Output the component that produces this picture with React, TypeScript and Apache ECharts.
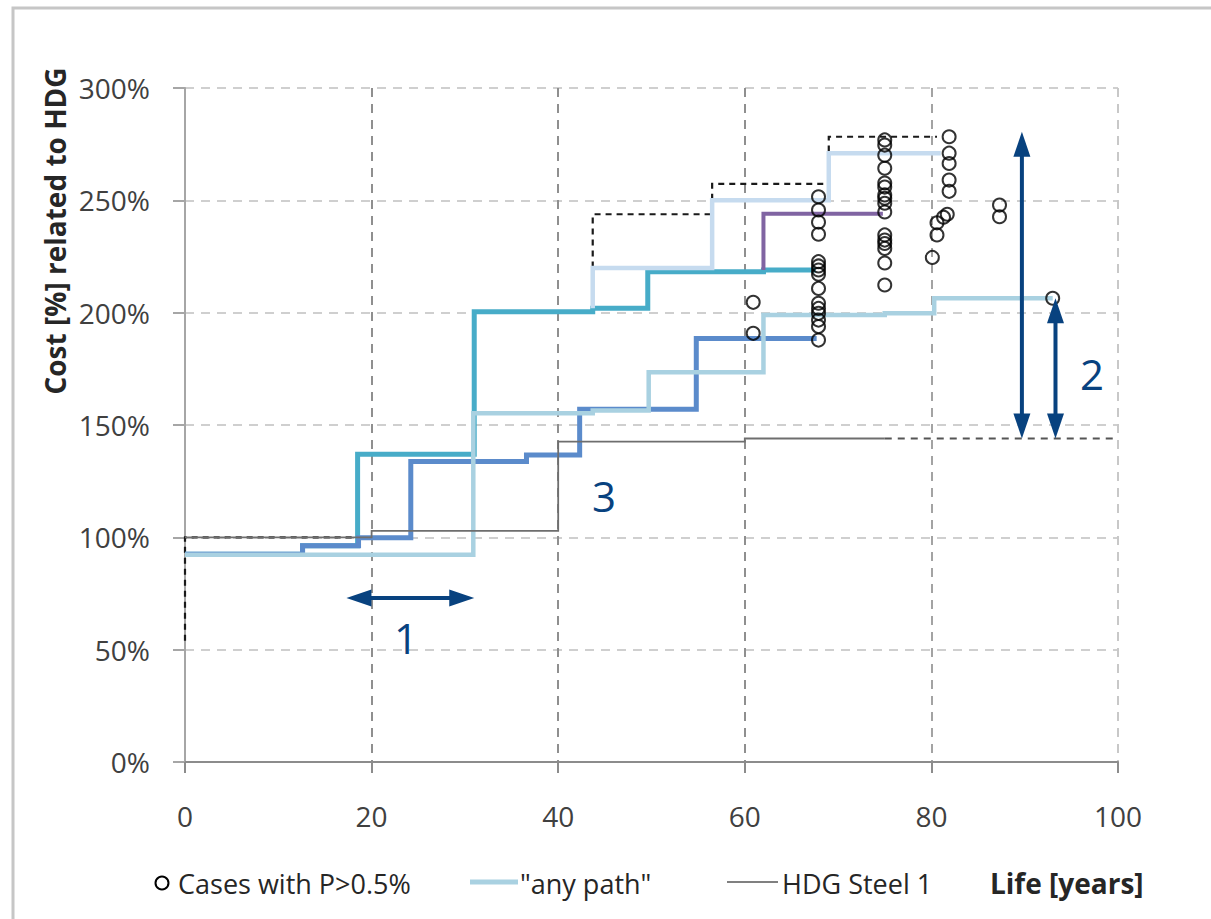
import React, { useEffect, useRef } from "react";
import * as echarts from "echarts";

type Pt = [number, number];

// Step paths: each [life in years, cost %] holds its value until the next point
const pathTeal: Pt[] = [[0, 92.5], [12.6, 96.2], [18.5, 137], [31, 200.4], [43.7, 202], [49.6, 218.2], [62, 219], [67.6, 219]];
const pathBlue: Pt[] = [[0, 92.5], [12.6, 96.2], [18.6, 99.8], [24.2, 133.7], [36.6, 136.6], [42.3, 157], [54.8, 188.5], [67.7, 188.5]];
const pathPale: Pt[] = [[43.7, 202], [43.7, 219.9], [56.5, 250], [69, 271], [81, 271]];
const pathPurple: Pt[] = [[62, 219], [62, 244], [74.8, 244]];
const anyPath: Pt[] = [[0, 92.2], [30.9, 155.2], [43.7, 156.5], [49.7, 173.5], [62, 199], [75, 199.7], [80.3, 206.4], [93, 206.4]];
const upperEnvelope: Pt[] = [[0, 54], [0, 100], [18.5, 137], [31, 200.4], [43.7, 243.8], [56.5, 257.3], [69, 278.3], [80.6, 278.3]];
const hdgSteel1: Pt[] = [[0, 100], [20, 102.9], [40, 142.6], [60, 144], [75, 144]];
const hdgSteel1Ext: Pt[] = [[75, 144], [100, 144]];

// Individual cases with probability above 0.5 %
const casesHighP: Pt[] = [
  [60.9, 204.6], [60.9, 190.8],
  [67.9, 251.6], [67.9, 245.7], [67.9, 240.3], [67.9, 234.9],
  [67.9, 222.7], [67.9, 220.8], [67.9, 219], [67.9, 217.1], [67.9, 210.8],
  [67.9, 204.2], [67.9, 201.9], [67.9, 199.7], [67.9, 196.7], [67.9, 193.8], [67.9, 187.8],
  [75, 276.9], [75, 274.6], [75, 270.1], [75, 264.3], [75, 257.7], [75, 255.9], [75, 252.4],
  [75, 250.9], [75, 248.7], [75, 244.8], [75, 234.6], [75, 232.3], [75, 230.8], [75, 228.6],
  [75, 222.1], [75, 212.3],
  [81.9, 278.3], [81.9, 271], [81.9, 266.4], [81.9, 259], [81.9, 254],
  [81.7, 243.8], [81.3, 242.5], [80.6, 240], [80.6, 234.6], [80.1, 224.6],
  [87.3, 247.9], [87.3, 242.7],
  [93, 206.4],
];

// Annotation arrows (double headed) and their numbers
const arrowSpans: [Pt, Pt][] = [
  [[17.3, 73], [31, 73]],
  [[89.7, 144], [89.7, 280.5]],
  [[93.3, 144], [93.3, 206.4]],
];
const noteLabels = ["1", "3", "2"];
const notePositions: Pt[] = [[23.7, 55.6], [44.9, 118.8], [97.2, 173.1]];

const xTicks = [0, 20, 40, 60, 80, 100];
const yTicks = [0, 50, 100, 150, 200, 250, 300];

const FONT = "'Open Sans', 'Noto Sans', sans-serif";
const NAVY = "#08427f";
const TEXT = "#262626";

function stepLine(name: string, data: Pt[], color: string, width: number, z: number, type: any = "solid") {
  return {
    type: "line",
    name,
    data,
    step: "end",
    showSymbol: false,
    symbol: "none",
    silent: true,
    z,
    lineStyle: { color, width, type, cap: "butt", join: "miter" },
  };
}

// Frame, rotated axis title, legend row and axis name
const baseGraphics: any[] = [
  {
    type: "rect",
    z: -10,
    shape: { x: 13, y: 8, width: 1400, height: 1100 },
    style: { fill: "none", stroke: "#c6c6c6", lineWidth: 3 },
  },
  {
    type: "text",
    x: 55,
    y: 231,
    rotation: Math.PI / 2,
    style: {
      text: "Cost [%] related to HDG",
      font: `bold 28px ${FONT}`,
      fill: TEXT,
      align: "center",
      verticalAlign: "middle",
    },
  },
  {
    type: "circle",
    shape: { cx: 162, cy: 883, r: 6.5 },
    style: { fill: "none", stroke: "#000000", lineWidth: 2 },
  },
  {
    type: "text",
    x: 178,
    y: 883,
    style: { text: "Cases with P>0.5%", font: `27px ${FONT}`, fill: TEXT, verticalAlign: "middle" },
  },
  {
    type: "line",
    shape: { x1: 470, y1: 882, x2: 518, y2: 882 },
    style: { stroke: "#a9d1e1", lineWidth: 5 },
  },
  {
    type: "text",
    x: 520,
    y: 883,
    style: { text: '"any path"', font: `27px ${FONT}`, fill: TEXT, verticalAlign: "middle" },
  },
  {
    type: "line",
    shape: { x1: 727, y1: 882, x2: 778, y2: 882 },
    style: { stroke: "#808080", lineWidth: 2 },
  },
  {
    type: "text",
    x: 782,
    y: 883,
    style: { text: "HDG Steel 1", font: `27px ${FONT}`, fill: TEXT, verticalAlign: "middle" },
  },
  {
    type: "text",
    x: 990,
    y: 883,
    style: { text: "Life [years]", font: `bold 28px ${FONT}`, fill: TEXT, verticalAlign: "middle" },
  },
];

export default function App() {
  const ref = useRef<HTMLDivElement>(null);

  useEffect(() => {
    const chart = echarts.init(ref.current!, null, { renderer: "svg" });
    chart.setOption({
      animation: false,
      backgroundColor: "#ffffff",
      grid: { left: 185, top: 88, right: 93, bottom: 157 },
      xAxis: {
        type: "value",
        min: xTicks[0],
        max: xTicks[xTicks.length - 1],
        interval: 20,
        axisLine: { show: true, onZero: false, lineStyle: { color: "#8c8c8c", width: 2 } },
        axisTick: { show: true, length: 11, lineStyle: { color: "#8c8c8c", width: 2 } },
        axisLabel: { margin: 40, fontSize: 28, fontFamily: FONT, color: "#404040" },
        splitLine: {
          show: true,
          lineStyle: {
            color: ["#a0a0a0", "#8f8f8f", "#8f8f8f", "#8f8f8f", "#a3a3a3", "#c8c8c8"],
            width: 2,
            type: [9, 7],
          },
        },
      },
      yAxis: {
        type: "value",
        min: yTicks[0],
        max: yTicks[yTicks.length - 1],
        interval: 50,
        axisLine: { show: true, onZero: false, lineStyle: { color: "#a6a6a6", width: 2 } },
        axisTick: { show: true, length: 12, lineStyle: { color: "#a6a6a6", width: 2 } },
        axisLabel: { margin: 35, fontSize: 28, fontFamily: FONT, color: "#404040", formatter: "{value}%" },
        splitLine: { show: true, lineStyle: { color: "#cfcfcf", width: 2, type: [9, 7] } },
      },
      series: [
        stepLine("Upper envelope", upperEnvelope, "#1a1a1a", 2.2, 1, [6, 5]),
        stepLine("Path A", pathTeal, "#47acc8", 5, 2),
        stepLine("Path B", pathBlue, "#5b8bcb", 5, 2),
        stepLine("Path C", pathPale, "#c6dbef", 4.5, 3),
        stepLine("Path D", pathPurple, "#8064a2", 4, 3),
        stepLine('"any path"', anyPath, "#a9d1e1", 4.5, 4),
        stepLine("HDG Steel 1", hdgSteel1, "#6e6e6e", 1.8, 5),
        stepLine("HDG Steel 1 ext", hdgSteel1Ext, "#555555", 2, 5, [7, 6]),
        {
          type: "scatter",
          name: "Cases with P>0.5%",
          data: casesHighP,
          symbol: "circle",
          symbolSize: 13,
          silent: true,
          z: 6,
          itemStyle: { color: "rgba(255,255,255,0)", borderColor: "#000000", borderWidth: 2 },
        },
      ],
      graphic: baseGraphics,
    });

    // Double-headed arrows and their numbers, placed through the grid's own scales
    const toPx = (p: Pt) => chart.convertToPixel({ gridIndex: 0 }, p) as number[];
    const L = 25;
    const W = 8.5;
    const arrowGraphics = arrowSpans.flatMap(([a, b]) => {
      const A = toPx(a);
      const B = toPx(b);
      const dx = B[0] - A[0];
      const dy = B[1] - A[1];
      const len = Math.hypot(dx, dy);
      const ux = dx / len;
      const uy = dy / len;
      const nx = -uy;
      const ny = ux;
      const head = (P: number[], s: number) => [
        [P[0], P[1]],
        [P[0] + s * ux * L + nx * W, P[1] + s * uy * L + ny * W],
        [P[0] + s * ux * L - nx * W, P[1] + s * uy * L - ny * W],
      ];
      return [
        {
          type: "line",
          z: 20,
          shape: { x1: A[0] + ux * L * 0.8, y1: A[1] + uy * L * 0.8, x2: B[0] - ux * L * 0.8, y2: B[1] - uy * L * 0.8 },
          style: { stroke: NAVY, lineWidth: 4 },
        },
        { type: "polygon", z: 20, shape: { points: head(A, 1) }, style: { fill: NAVY } },
        { type: "polygon", z: 20, shape: { points: head(B, -1) }, style: { fill: NAVY } },
      ];
    });
    const noteGraphics = notePositions.map((p, i) => {
      const P = toPx(p);
      return {
        type: "text",
        z: 20,
        x: P[0],
        y: P[1],
        style: {
          text: noteLabels[i],
          font: `42px ${FONT}`,
          fill: NAVY,
          align: "center",
          verticalAlign: "middle",
        },
      };
    });
    chart.setOption({ graphic: [...baseGraphics, ...arrowGraphics, ...noteGraphics] });

    return () => chart.dispose();
  }, []);

  return (
    <div
      ref={ref}
      style={{ position: "absolute", left: 0, top: 0, width: 1211, height: 919, background: "#ffffff" }}
    />
  );
}
